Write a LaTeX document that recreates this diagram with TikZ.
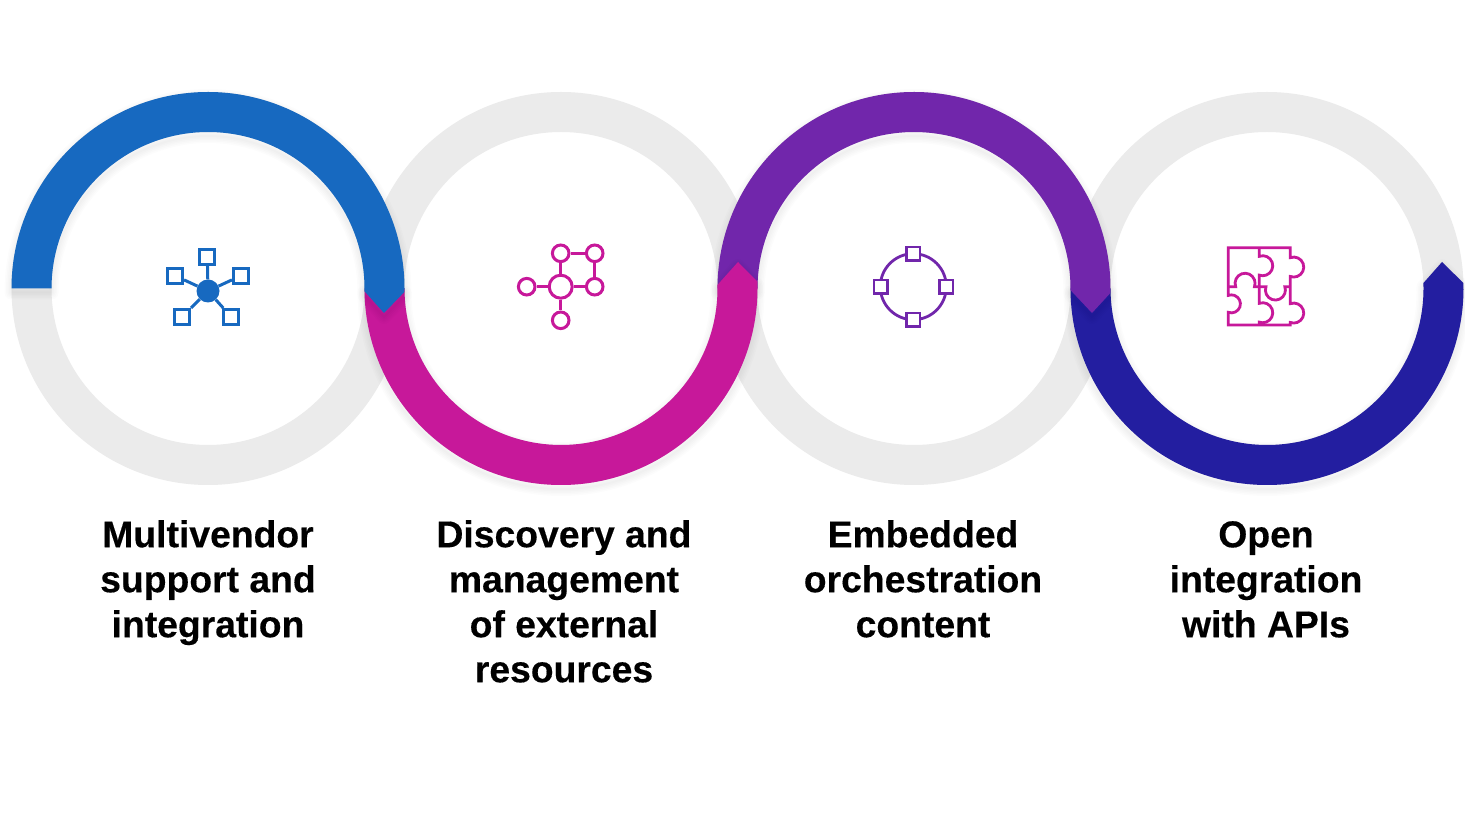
\documentclass[tikz,border=0pt]{standalone}
\usepackage{fontspec}
\setmainfont{Liberation Sans}[BoldFeatures={FakeBold=0.35}]
\definecolor{cblue}{HTML}{1769C0}
\definecolor{cmag}{HTML}{C7189A}
\definecolor{cpur}{HTML}{7126AB}
\definecolor{cdark}{HTML}{231EA0}
\definecolor{cgray}{HTML}{EBEBEB}
\tikzset{
  ring/.style={draw=cgray,line width=40pt},
  caption/.style={align=center,anchor=north,inner sep=0pt,font=\fontsize{37.3}{45}\selectfont\bfseries,text=black},
  sq/.style={draw=#1,fill=white,rectangle,minimum size=15pt,inner sep=0pt,line width=3pt},
  circ/.style={draw=#1,fill=white,circle,minimum size=16.6pt,inner sep=0pt,line width=3pt},
  link/.style={draw=#1,line width=3pt},
}
% #1 centre x, #2 path from the centre of the ring
\newcommand{\softshadow}[2]{%
  \foreach \w in {14,11,8,5,2}{%
    \draw[black,opacity=.01,line width=\w pt,line join=round,shift={(#1,535.5)}] #2;}%
}
\begin{document}
\begin{tikzpicture}[x=1pt,y=1pt]
\useasboundingbox (0,0) rectangle (1465,828);
\fill[white] (0,0) rectangle (1465,828);
\foreach \cx in {208,561,914,1267}
  \draw[ring] (\cx,539.5) circle[radius=176.5];
% dark blue
\def\pathD{(180:196.5) arc[start angle=180,end angle=361.6,radius=196.5] -- (175,26.5) -- (2:156.5) arc[start angle=2,end angle=-180,radius=156.5] -- cycle}
\softshadow{1267}{\pathD}
\fill[cdark,shift={(1267,539.5)}] \pathD;
% purple
\def\pathC{(180:196.5) arc[start angle=180,end angle=-1.3,radius=196.5] -- (178,-24.5) -- (-0.6:156.5) arc[start angle=-0.6,end angle=180,radius=156.5] -- cycle}
\softshadow{914}{\pathC}
\fill[cpur,shift={(914,539.5)}] \pathC;
% magenta
\def\pathB{(180:196.5) arc[start angle=180,end angle=362,radius=196.5] -- (177,26.5) -- (1.3:156.5) arc[start angle=1.3,end angle=-180,radius=156.5] -- cycle}
\softshadow{561}{\pathB}
\fill[cmag,shift={(561,539.5)}] \pathB;
% blue
\def\pathA{(180:196.5) arc[start angle=180,end angle=-1,radius=196.5] -- (176,-24.5) -- (-1:156.5) arc[start angle=-1,end angle=180,radius=156.5] -- cycle}
\softshadow{208}{\pathA}
\fill[cblue,shift={(208,539.5)}] \pathA;

% icon 1
\node[circle,fill=cblue,minimum size=23pt,inner sep=0pt] (hub) at (208,537) {};
\node[sq=cblue] (a1) at (207.3,571.3) {};
\node[sq=cblue] (a2) at (175,552.3) {};
\node[sq=cblue] (a3) at (241,552.3) {};
\node[sq=cblue] (a4) at (182,511) {};
\node[sq=cblue] (a5) at (231.3,511) {};
\foreach \n in {a1,a2,a3,a4,a5} \draw[link=cblue] (hub) -- (\n);

% icon 2
\node[circ=cmag,minimum size=23pt] (b0) at (560.7,541.3) {};
\node[circ=cmag] (b1) at (560.7,574.7) {};
\node[circ=cmag] (b2) at (594.7,574.7) {};
\node[circ=cmag] (b3) at (594.7,541.3) {};
\node[circ=cmag] (b4) at (526.7,541.3) {};
\node[circ=cmag] (b5) at (560.7,507.7) {};
\draw[link=cmag] (b0) -- (b1); \draw[link=cmag] (b1) -- (b2); \draw[link=cmag] (b2) -- (b3);
\draw[link=cmag] (b0) -- (b3); \draw[link=cmag] (b0) -- (b4); \draw[link=cmag] (b0) -- (b5);

% icon 3
\node[circle,draw=cpur,line width=2.8pt,minimum size=66pt,inner sep=0pt] (ringc) at (913.3,541.3) {};
\node[sq=cpur,minimum size=13.5pt,line width=2.8pt] (c1) at (913.3,574.3) {};
\node[sq=cpur,minimum size=13.5pt,line width=2.8pt] (c2) at (913.3,508.3) {};
\node[sq=cpur,minimum size=13.5pt,line width=2.8pt] (c3) at (880.7,541.3) {};
\node[sq=cpur,minimum size=13.5pt,line width=2.8pt] (c4) at (946.3,541.3) {};

% icon 4 (puzzle)
\begin{scope}[shift={(1215,593)},xscale=1/3,yscale=-1/3]
\draw[cmag,line width=2.8pt,line join=miter]
  (40,38) -- (226,38) -- (226,68) arc[start angle=-110,end angle=110,radius=30]
  -- (226,206) arc[start angle=-110,end angle=110,radius=30]
  -- (226,270) -- (40,270) -- (40,232)
  arc[start angle=110,end angle=-110,radius=27] -- (40,38) -- cycle;
\draw[cmag,line width=2.8pt]
  (133,38) -- (133,64) arc[start angle=-110,end angle=110,radius=30]
  -- (133,205) arc[start angle=-110,end angle=110,radius=30] -- (133,270);
\draw[cmag,line width=2.8pt]
  (40,155) -- (62,155) arc[start angle=160,end angle=380,radius=30]
  -- (153,155) arc[start angle=200,end angle=-20,radius=30] -- (226,155);
\end{scope}

% captions
\node[caption] (t1) at (208,308) {Multivendor\\support and\\integration};
\node[caption] (t2) at (564,308) {Discovery and\\management\\of external\\resources};
\node[caption] (t3) at (923,308) {Embedded\\orchestration\\content};
\node[caption] (t4) at (1266,307) {Open\\integration\\with APIs};
\end{tikzpicture}
\end{document}
